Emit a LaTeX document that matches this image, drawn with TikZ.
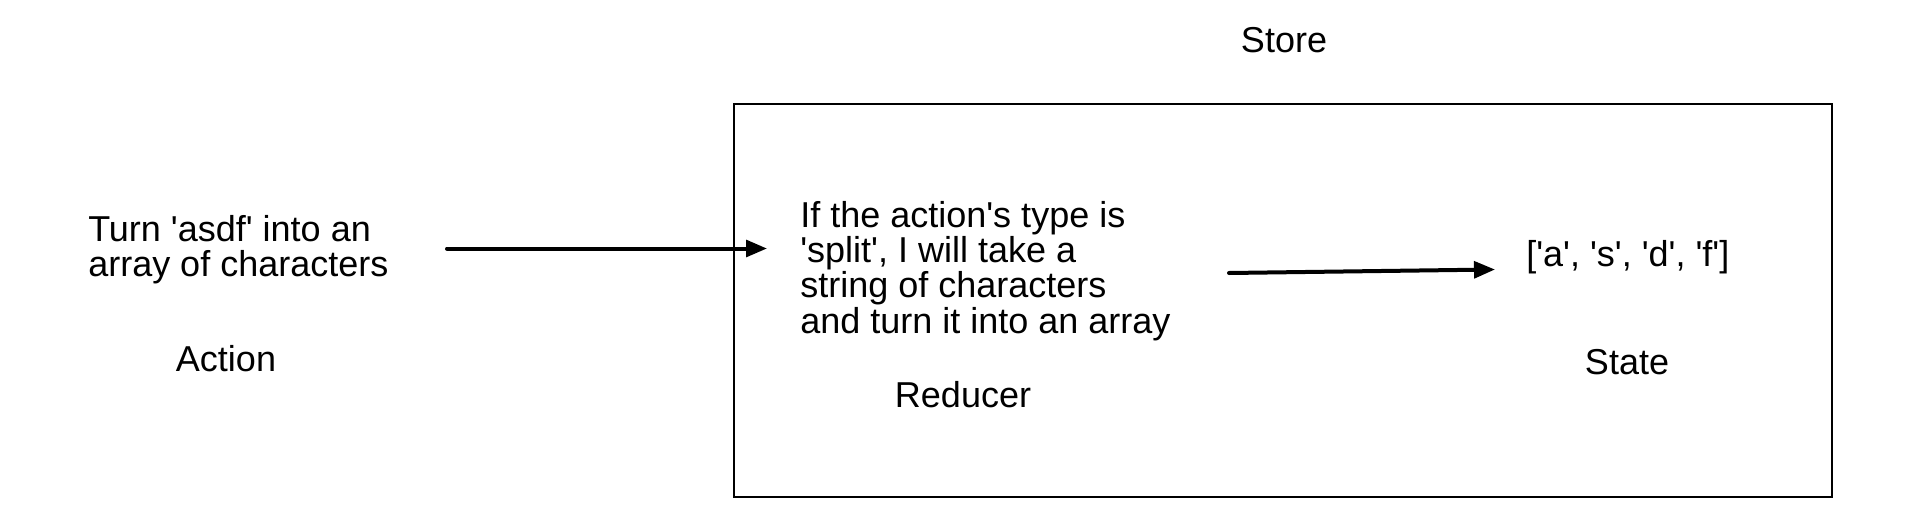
\documentclass[tikz,border=0pt]{standalone}
\usepackage{fontspec}
\setmainfont{Liberation Sans}
\usetikzlibrary{arrows.meta,positioning}
\newcommand{\sq}{\textquotesingle}
\tikzset{
  txt/.style={inner sep=0pt, font=\fontsize{27}{26.5}\selectfont, align=left},
  flow/.style={line width=3pt, line cap=round, -{Triangle[length=15.75pt,width=12.5pt]}},
  storebox/.style={draw, line width=1.5pt, inner sep=0pt}
}
\begin{document}
\begin{tikzpicture}[x=0.75pt,y=0.75pt,yscale=-1,xscale=1]
\useasboundingbox (0,0) rectangle (1919,521);

%Shape: Rectangle [store]
\node[storebox, minimum width=823.5pt, minimum height=294.75pt] (store) at (1283,300.5) {};

% Text Node
\node[txt] (storelbl) at (1284,40) {Store};
% Text Node
\node[txt, anchor=west] (turn) at (88,250) {Turn \sq asdf\sq{} into an\\array of characters};
% Text Node
\node[txt] (actionlbl) at (226,359) {Action};
% Text Node
\node[txt, anchor=west] (logic) at (800,271) {If the action\sq s type is\\\sq split\sq, I will take a\\string of characters\\and turn it into an array};
% Text Node
\node[txt] (reducerlbl) at (963,395) {Reducer};
% Text Node
\node[txt, anchor=west] (arr) at (1526,257.5) {[\sq a\sq, \sq s\sq, \sq d\sq, \sq f\sq]};
% Text Node
\node[txt] (statelbl) at (1627,362) {State};

%Straight Lines
\coordinate (in1) at (447,248.5);
\coordinate (out1) at (767,248.5);
\draw[flow] (in1) -- (out1);
%Straight Lines
\coordinate (in2) at (1229,273);
\coordinate (out2) at (1495,269.5);
\draw[flow] (in2) -- (out2);

\end{tikzpicture}
\end{document}
